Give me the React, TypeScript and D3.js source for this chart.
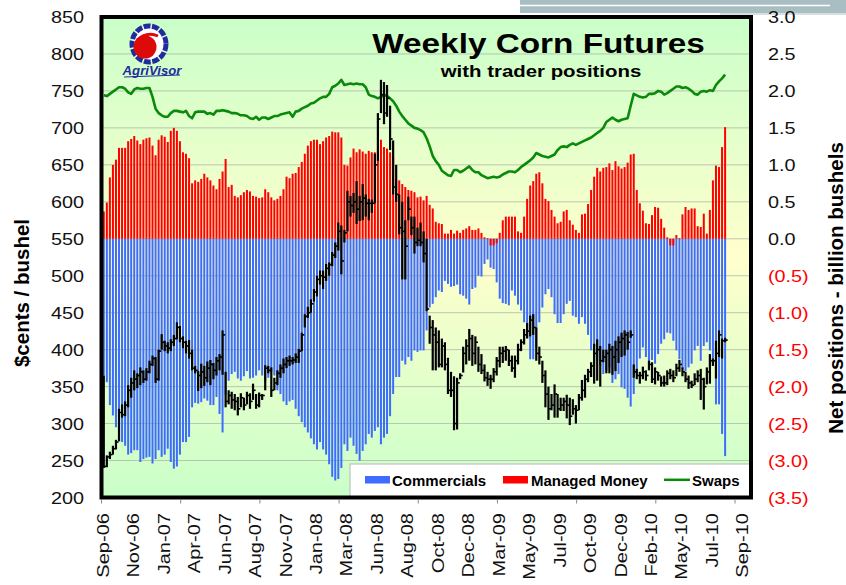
import React from "react";
import * as d3 from "d3";

// ---------- data ----------
const xLabels = ["Sep-06","Nov-06","Jan-07","Apr-07","Jun-07","Aug-07","Nov-07","Jan-08","Mar-08","Jun-08","Aug-08","Oct-08","Dec-08","Mar-09","May-09","Jul-09","Oct-09","Dec-09","Feb-10","May-10","Jul-10","Sep-10"];
const leftTicks = [200,250,300,350,400,450,500,550,600,650,700,750,800,850];
const rightTicks = [-3.5,-3.0,-2.5,-2.0,-1.5,-1.0,-0.5,0,0.5,1.0,1.5,2.0,2.5,3.0];

// net positions, billion bushels (weekly)
const commercials = [
 -1.85,-1.94,-2.25,-2.39,-2.55,-2.68,-2.75,-2.80,-2.92,-2.90,
 -2.86,-2.86,-3.02,-2.98,-2.96,-2.95,-3.04,-2.98,-2.86,-2.95,
 -2.92,-2.84,-3.02,-3.11,-3.08,-2.92,-2.75,-2.75,-2.68,-2.28,
 -2.22,-2.23,-2.21,-2.16,-2.19,-2.25,-2.25,-2.14,-2.37,-2.62,
 -2.11,-1.92,-1.83,-1.80,-1.89,-1.92,-1.86,-1.79,-1.89,-1.88,
 -1.85,-1.78,-1.85,-1.92,-1.88,-1.80,-1.85,-2.05,-2.10,-2.20,
 -2.25,-2.20,-2.18,-2.30,-2.40,-2.48,-2.55,-2.62,-2.70,-2.78,
 -2.85,-2.75,-2.85,-2.92,-3.05,-3.22,-3.27,-3.25,-3.10,-2.78,
 -2.87,-2.69,-2.80,-2.91,-3.00,-2.87,-2.78,-2.64,-2.69,-2.60,
 -2.55,-2.78,-2.69,-2.64,-2.40,-2.10,-1.87,-1.87,-1.65,-1.70,
 -1.60,-1.65,-1.51,-1.53,-1.51,-1.51,-1.24,-0.93,-0.88,-0.79,
 -0.70,-0.72,-0.57,-0.61,-0.65,-0.64,-0.62,-0.75,-0.77,-0.81,
 -0.89,-0.68,-0.66,-0.50,-0.51,-0.34,-0.28,-0.39,-0.41,-0.59,
 -0.81,-0.87,-0.88,-0.90,-0.70,-0.77,-0.89,-0.97,-1.13,-1.33,
 -1.63,-1.63,-1.47,-1.13,-0.93,-0.75,-0.68,-0.79,-1.02,-1.14,
 -1.14,-1.02,-0.88,-0.84,-1.04,-1.06,-1.15,-1.06,-1.15,-1.30,
 -1.51,-1.65,-1.65,-1.72,-1.83,-1.78,-1.74,-1.95,-1.90,-1.83,
 -2.01,-2.03,-2.15,-2.27,-2.10,-1.82,-1.62,-1.47,-1.60,-1.67,
 -1.64,-1.69,-1.56,-1.42,-1.36,-1.27,-1.28,-1.38,-1.51,-1.63,
 -1.76,-1.79,-1.74,-1.69,-1.51,-1.45,-1.65,-1.45,-1.40,-1.51,
 -1.69,-2.24,-2.24,-2.64,-2.94
];

const managedMoney = [
 0.37,0.49,0.83,1.00,1.07,1.23,1.23,1.23,1.32,1.35,
 1.39,1.33,1.28,1.34,1.36,1.37,1.26,1.13,1.34,1.40,
 1.38,1.31,1.46,1.50,1.46,1.32,1.17,1.15,1.09,0.75,
 0.79,0.77,0.81,0.88,0.83,0.79,0.72,0.67,0.81,0.91,
 1.08,0.70,0.73,0.58,0.56,0.59,0.63,0.66,0.64,0.58,
 0.57,0.55,0.56,0.67,0.63,0.56,0.52,0.54,0.58,0.67,
 0.84,0.82,0.88,0.89,0.97,1.04,1.15,1.26,1.32,1.34,
 1.34,1.28,1.32,1.37,1.39,1.45,1.44,1.44,1.37,1.00,
 0.99,1.10,1.22,1.17,1.21,1.18,1.15,1.19,1.17,1.17,
 1.16,1.34,1.24,1.22,1.17,1.10,0.81,0.79,0.74,0.70,
 0.66,0.65,0.63,0.56,0.57,0.52,0.58,0.46,0.41,0.23,
 0.21,0.20,0.07,0.07,0.12,0.07,0.11,0.08,0.12,0.14,
 0.17,0.12,0.12,0.14,0.08,0.02,0.01,-0.09,-0.09,-0.06,
 0.08,0.25,0.30,0.30,0.30,0.30,0.10,0.08,0.30,0.54,
 0.72,0.78,0.88,0.90,0.75,0.54,0.51,0.39,0.30,0.21,
 0.23,0.37,0.39,0.25,0.19,0.12,0.08,0.33,0.34,0.47,
 0.66,0.84,0.96,0.91,0.96,0.97,1.02,0.93,1.05,0.98,
 0.95,0.97,1.03,1.14,1.15,0.66,0.48,0.38,0.21,0.20,
 0.32,0.43,0.42,0.27,0.15,0.02,-0.09,-0.09,0.05,0.01,
 0.33,0.43,0.39,0.41,0.41,0.17,0.16,0.34,0.07,0.39,
 0.79,0.99,0.97,1.24,1.51
];

const swaps = [
 1.94,1.93,1.96,1.99,2.02,2.05,2.05,2.03,1.98,1.96,
 2.02,2.04,2.03,2.03,2.04,2.04,1.92,1.76,1.70,1.67,
 1.65,1.65,1.70,1.73,1.73,1.72,1.71,1.73,1.66,1.63,
 1.71,1.72,1.72,1.72,1.69,1.70,1.68,1.73,1.73,1.74,
 1.73,1.72,1.70,1.70,1.69,1.67,1.67,1.66,1.63,1.62,
 1.65,1.61,1.64,1.64,1.62,1.64,1.66,1.66,1.68,1.69,
 1.70,1.71,1.65,1.72,1.73,1.76,1.78,1.80,1.83,1.84,
 1.87,1.90,1.92,1.92,1.96,2.05,2.07,2.10,2.15,2.08,
 2.09,2.10,2.09,2.10,2.09,2.09,2.05,1.95,1.93,1.92,
 1.90,1.92,1.95,1.93,1.90,1.86,1.80,1.72,1.66,1.61,
 1.56,1.53,1.50,1.49,1.47,1.44,1.36,1.25,1.12,1.05,
 1.00,0.92,0.89,0.86,0.85,0.93,0.93,0.90,0.92,0.95,
 0.98,0.93,0.90,0.90,0.86,0.84,0.82,0.83,0.84,0.83,
 0.84,0.87,0.89,0.91,0.91,0.90,0.93,0.97,1.00,1.03,
 1.06,1.10,1.16,1.14,1.12,1.11,1.10,1.12,1.14,1.20,
 1.24,1.25,1.24,1.27,1.29,1.27,1.29,1.31,1.33,1.35,
 1.37,1.40,1.43,1.46,1.50,1.58,1.61,1.64,1.61,1.59,
 1.61,1.62,1.63,1.80,1.96,1.94,1.92,1.91,1.92,1.96,
 1.96,1.97,2.00,1.99,1.95,1.97,2.00,2.03,2.06,2.06,
 2.04,2.05,2.03,2.00,1.96,1.95,1.99,2.00,1.99,2.01,
 2.00,2.08,2.13,2.17,2.22
];

// weekly corn futures, cents / bushel
const priceHigh = [
 365,257,262,270,278,320,326,330,352,362,
 372,368,376,372,375,385,392,390,400,421,
 412,410,414,420,437,432,418,412,413,400,
 378,371,381,378,384,386,382,390,394,426,
 370,345,343,340,336,341,335,343,341,354,
 340,342,340,379,378,376,362,372,380,388,
 390,392,390,395,401,423,448,458,468,482,
 500,507,507,516,518,532,545,572,568,562,
 615,608,612,628,608,624,610,604,603,665,
 720,765,762,758,730,683,650,610,600,575,
 607,580,580,565,572,560,550,446,440,430,
 426,415,410,389,370,364,362,368,404,414,
 428,420,418,404,394,380,370,366,375,390,
 404,404,405,400,392,392,408,414,428,436,
 446,448,430,404,385,372,350,340,353,340,
 335,335,339,335,333,325,340,359,366,374,
 383,408,414,405,400,400,408,405,412,418,
 423,426,424,426,380,374,370,377,372,385,
 383,376,370,364,365,372,374,372,381,386,
 376,370,365,358,368,372,374,362,376,394,
 388,412,426,415,416
];
const priceLow = [
 240,241,252,258,265,276,308,310,322,335,
 345,348,352,355,358,368,378,355,358,400,
 398,395,398,405,414,410,402,395,388,372,
 368,344,348,351,356,352,360,365,372,366,
 322,326,320,318,311,322,318,326,320,332,
 320,322,332,345,368,336,345,352,362,368,
 375,378,380,382,382,398,430,443,450,465,
 472,488,482,493,500,513,524,534,502,545,
 560,580,585,570,574,575,580,575,585,598,
 655,720,705,715,670,610,600,556,495,495,
 575,555,530,540,540,518,452,408,372,372,
 376,376,372,340,336,291,292,360,369,380,
 385,378,380,370,367,357,351,347,356,365,
 376,382,385,378,370,362,380,398,407,415,
 418,420,385,380,355,322,305,318,308,308,
 317,317,307,298,312,300,318,331,335,356,
 363,354,358,350,383,368,368,366,371,382,
 390,392,400,416,362,360,354,360,358,372,
 355,353,358,350,350,352,360,356,364,370,
 364,356,347,348,352,356,332,319,353,354,
 378,361,390,388,410
];
const priceClose = [
 242,255,258,266,275,315,312,325,345,355,
 360,365,370,360,370,380,388,360,398,410,
 405,402,410,415,430,415,410,405,395,375,
 372,365,370,362,375,380,372,385,390,420,
 330,338,332,330,320,335,325,338,330,345,
 325,338,338,375,372,345,355,368,375,380,
 385,385,386,390,398,420,445,450,462,478,
 495,500,498,510,515,528,540,560,520,558,
 600,595,600,590,600,605,598,598,598,650,
 712,745,720,740,685,620,610,565,560,540,
 590,565,545,548,545,530,455,430,420,410,
 380,405,380,345,345,300,355,365,395,405,
 415,395,410,380,372,362,360,360,370,385,
 395,398,400,385,375,385,400,410,420,425,
 440,430,395,390,365,340,320,325,340,320,
 325,330,325,310,320,318,335,345,360,370,
 378,395,400,385,390,395,400,390,400,410,
 415,420,410,420,370,365,365,370,365,380,
 360,370,365,355,355,368,365,362,375,380,
 370,360,355,352,360,365,360,350,370,385,
 385,395,420,412,413
];

const FONT = "'Liberation Sans', Arial, Helvetica, sans-serif";

function T(props: any) {
  const { x, y, rot = 0, sx = 1, anchor = "start", size = 16, weight = "normal", fill = "#000", style, children } = props;
  return (
    <g transform={`translate(${x},${y}) rotate(${rot}) scale(${sx},1)`}>
      <text textAnchor={anchor} fontSize={size} fontWeight={weight} fill={fill} fontFamily={FONT} fontStyle={style}>
        {children}
      </text>
    </g>
  );
}

export default function App() {
  const W = 846, H = 585;
  const plot = { left: 101.5, right: 751, top: 17, bottom: 497.5 };
  const x = d3.scaleLinear().domain([-0.75, 212.5]).range([plot.left, plot.right]);
  const yL = d3.scaleLinear().domain([200, 850]).range([plot.bottom, plot.top]);
  const yR = d3.scaleLinear().domain([-3.5, 3.0]).range([plot.bottom, plot.top]);
  const y0 = yR(0);
  const swapsPath = d3.line<number>().x((_, i) => x(i)).y((d) => yR(d))(swaps) || "";
  const f1 = d3.format(".1f");
  const fmtR = (v: number) => (v < 0 ? `(${f1(-v)})` : f1(v));
  const tickWeeks = d3.range(9).map((k) => -0.75 + 26 * k);
  const labelWeeks = xLabels.map((_, k) => k * 10);
  const barW = 2;
  const blue = "#3d6cff";
  const red = "#ff0000";
  const green = "#0a8a0a";

  return (
    <svg width={W} height={H} style={{ position: "absolute", left: 0, top: 0, background: "#fff" }}>
      <defs>
        <linearGradient id="bg" x1="0" y1="0" x2="0" y2="1">
          <stop offset="0%" stopColor="#c9ffc9" />
          <stop offset="50%" stopColor="#ffffcc" />
          <stop offset="100%" stopColor="#c9ffc9" />
        </linearGradient>
      </defs>

      {/* slide header decoration */}
      <rect x={520} y={0} width={326} height={13} fill="#a8bec3" />
      <line x1={520} x2={830} y1={5.5} y2={5.5} stroke="#fff" strokeWidth={1.5} />
      <rect x={720} y={13} width={126} height={2} fill="#d4e0e2" />

      {/* plot background */}
      <rect x={plot.left} y={plot.top} width={plot.right - plot.left} height={plot.bottom - plot.top} fill="url(#bg)" />

      {/* gridlines */}
      {leftTicks.map((v) => (
        <line key={"g" + v} x1={plot.left} x2={plot.right} y1={yL(v)} y2={yL(v)} stroke="#9a9a9a" strokeWidth={0.8} opacity={0.7} />
      ))}

      {/* commercials */}
      {commercials.map((d, i) => (
        <rect key={"c" + i} x={x(i) - barW / 2} y={y0} width={barW} height={yR(d) - y0} fill={blue} />
      ))}
      {/* managed money */}
      {managedMoney.map((d, i) => (
        <rect key={"m" + i} x={x(i) - barW / 2} y={d >= 0 ? yR(d) : y0} width={barW} height={Math.abs(yR(d) - y0)} fill={red} />
      ))}

      {/* swaps */}
      <path d={swapsPath} fill="none" stroke={green} strokeWidth={2.6} strokeLinejoin="round" />

      {/* price bars */}
      {priceHigh.map((h, i) => (
        <g key={"p" + i}>
          <line x1={x(i)} x2={x(i)} y1={yL(h)} y2={yL(priceLow[i])} stroke="#000" strokeWidth={2.2} />
          <line x1={x(i)} x2={x(i) + 2.6} y1={yL(priceClose[i])} y2={yL(priceClose[i])} stroke="#000" strokeWidth={1.6} />
        </g>
      ))}

      {/* legend */}
      <rect x={350} y={464} width={400} height={33} fill="#fff" stroke="#b8b8b8" strokeWidth={1} />
      <rect x={365} y={476} width={25} height={7.5} fill={blue} />
      <T x={392} y={485.5} size={15} weight="bold">Commercials</T>
      <rect x={503} y={476} width={25} height={7.5} fill={red} />
      <T x={531} y={485.5} size={15} weight="bold">Managed Money</T>
      <line x1={664} x2={690} y1={479.8} y2={479.8} stroke={green} strokeWidth={2.5} />
      <T x={692} y={485.5} size={15} weight="bold">Swaps</T>

      {/* plot border */}
      <rect x={plot.left} y={plot.top} width={plot.right - plot.left} height={plot.bottom - plot.top} fill="none" stroke="#000" strokeWidth={4} />

      {/* x ticks */}
      {tickWeeks.map((w) => (
        <line key={"t" + w} x1={x(w)} x2={x(w)} y1={plot.bottom + 2} y2={plot.bottom + 6} stroke="#888" strokeWidth={1} />
      ))}

      {/* left axis labels */}
      {leftTicks.map((v) => (
        <T key={"l" + v} x={84} y={yL(v) + 6} anchor="end" size={16.5} sx={1.2} fill="#111">{v}</T>
      ))}
      {/* right axis labels */}
      {rightTicks.map((v) => (
        <T key={"r" + v} x={768} y={yR(v) + 6} anchor="start" size={16.5} sx={1.2} fill={v < 0 ? "#ff0000" : "#111"}>{fmtR(v)}</T>
      ))}
      {/* x labels */}
      {xLabels.map((lab, k) => (
        <T key={"x" + k} x={x(labelWeeks[k]) + 5} y={513} rot={-90} anchor="end" size={17} sx={1.18} fill="#111">{lab}</T>
      ))}

      {/* axis titles */}
      <T x={29} y={293} rot={-90} anchor="middle" size={20.5} weight="bold">$cents / bushel</T>
      <T x={843} y={288} rot={-90} anchor="middle" size={20.5} weight="bold">Net positions - billion bushels</T>

      {/* titles */}
      <T x={538.5} y={53} anchor="middle" size={28} weight="bold" sx={1.19}>Weekly Corn Futures</T>
      <T x={541} y={77} anchor="middle" size={17} weight="bold" sx={1.2}>with trader positions</T>

      {/* logo */}
      <g>
        <ellipse cx={149} cy={44} rx={17} ry={18} fill="#fff" stroke="#1f2d9c" strokeWidth={5} strokeDasharray="7 1.5" />
        <circle cx={145} cy={47} r={11.5} fill="#dd0a0a" />
        <path d="M 137 40 Q 147 31 158 36" fill="none" stroke="#dd0a0a" strokeWidth={3} />
        <T x={152} y={75} anchor="middle" size={12} weight="bold" style="italic" fill="#1f2d9c" sx={1.1}>AgriVisor</T>
        <line x1={124} x2={180} y1={77} y2={75} stroke="#1f2d9c" strokeWidth={1} />
      </g>
    </svg>
  );
}
